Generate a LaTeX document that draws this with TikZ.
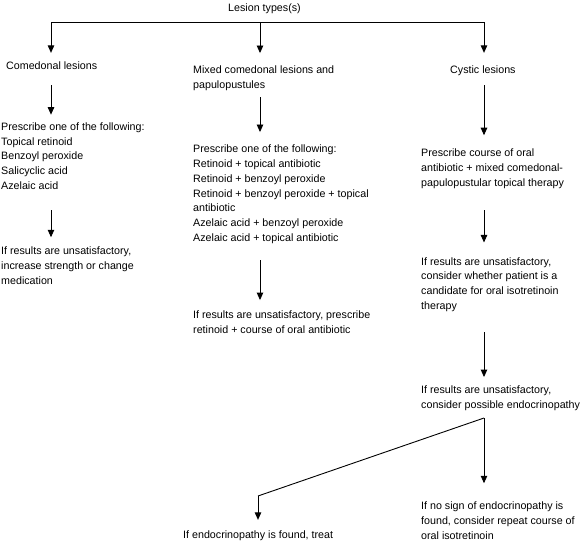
\documentclass[tikz,border=0pt]{standalone}
\usepackage{fontspec}
\setmainfont{Liberation Sans}
\usetikzlibrary{arrows.meta}

\tikzset{
    txt/.style={anchor=base west, inner sep=0pt, align=left,
        font=\fontsize{10.7}{14.8}\selectfont},
    flow/.style={line width=0.9pt, -{Triangle[width=6.5pt,length=7.5pt]}},
}

\begin{document}
\begin{tikzpicture}[x=1pt,y=-1pt]
    \useasboundingbox (0,0) rectangle (581,541);

    % base of each text = baseline of its last line
    \node[txt] at (228,11.5)   (title)  {Lesion types(s)};
    \node[txt] at (6,69.5)     (comedo) {Comedonal lesions};
    \node[txt] at (193,88.5)   (mixed)  {Mixed comedonal lesions and\\papulopustules};
    \node[txt] at (450,73.5)   (cystic) {Cystic lesions};

    \node[txt] at (1,189.5)    (prescA) {Prescribe one of the following:\\Topical retinoid\\Benzoyl peroxide\\Salicyclic acid\\Azelaic acid};
    \node[txt] at (193,241.5)  (prescB) {Prescribe one of the following:\\Retinoid + topical antibiotic\\Retinoid + benzoyl peroxide\\Retinoid + benzoyl peroxide + topical\\antibiotic\\Azelaic acid + benzoyl peroxide\\Azelaic acid + topical antibiotic};
    \node[txt] at (421,186.5)  (prescC) {Prescribe course of oral\\antibiotic + mixed comedonal-\\papulopustular topical therapy};

    \node[txt] at (1,284.5)    (failA)  {If results are unsatisfactory,\\increase strength or change\\medication};
    \node[txt] at (193,333.5)  (failB)  {If results are unsatisfactory, prescribe\\retinoid + course of oral antibiotic};
    \node[txt] at (421,309.5)  (failC)  {If results are unsatisfactory,\\consider whether patient is a\\candidate for oral isotretinoin\\therapy};
    \node[txt] at (421,408.5)  (endo)   {If results are unsatisfactory,\\consider possible endocrinopathy};
    \node[txt] at (183,538.5)  (treat)  {If endocrinopathy is found, treat};
    \node[txt] at (421,539.5)  (repeat) {If no sign of endocrinopathy is\\found, consider repeat course of\\oral isotretinoin};

    \coordinate (barL)  at (51,22);
    \coordinate (barM)  at (260,22);
    \coordinate (barR)  at (484,22);
    \coordinate (split) at (484,418);
    \coordinate (knee)  at (258,496);

    \draw[line width=0.9pt] (barL) -- (barR);
    \draw[flow, shorten >=8.7pt]  (barL) -- (comedo.north -| barL);
    \draw[flow, shorten >=12.7pt] (barM) -- (mixed.north -| barM);
    \draw[flow, shorten >=12.7pt] (barR) -- (cystic.north -| barR);

    \draw[flow, shorten <=15.5pt, shorten >=7.7pt]  (comedo.south -| barL) -- (prescA.north -| barL);
    \draw[flow, shorten <=20.5pt, shorten >=9.7pt]  (prescA.south -| barL) -- (failA.north -| barL);
    \draw[flow, shorten <=6.3pt, shorten >=12.7pt]  (mixed.south -| barM) -- (prescB.north -| barM);
    \draw[flow, shorten <=16.3pt, shorten >=10.7pt] (prescB.south -| barM) -- (failB.north -| barM);
    \draw[flow, shorten <=9.3pt, shorten >=13.7pt]  (cystic.south -| barR) -- (prescC.north -| barR);
    \draw[flow, shorten <=21.3pt, shorten >=14.7pt] (prescC.south -| barR) -- (failC.north -| barR);
    \draw[flow, shorten <=20.3pt, shorten >=8.7pt]  (failC.south -| barR) -- (endo.north -| barR);

    \draw[line width=0.9pt] (split) -- (knee);
    \draw[flow, shorten >=18.7pt] (split) -- (repeat.north -| split);
    \draw[flow, shorten >=10.7pt] (knee) -- (treat.north -| knee);
\end{tikzpicture}
\end{document}
